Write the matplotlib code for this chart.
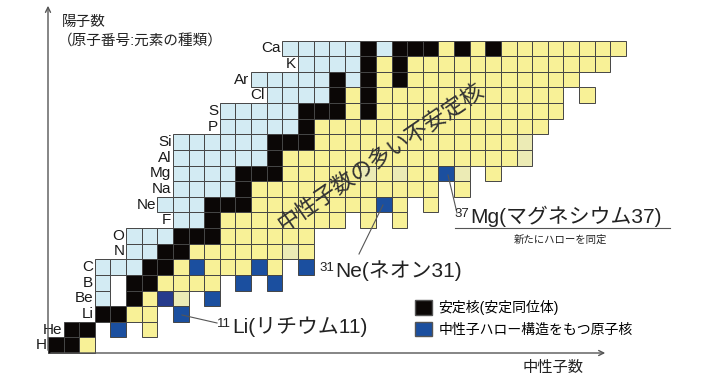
import matplotlib.pyplot as plt
from matplotlib.patches import Rectangle, Patch

plt.rcParams['font.family'] = ['Liberation Sans', 'Noto Sans CJK JP']

elements = ["H", "He", "Li", "Be", "B", "C", "N", "O", "F", "Ne",
            "Na", "Mg", "Al", "Si", "P", "S", "Cl", "Ar", "K", "Ca"]

# neutron numbers N for each proton number Z
stable = {
    1: [0, 1], 2: [1, 2], 3: [3, 4], 4: [5], 5: [5, 6], 6: [6, 7],
    7: [7, 8], 8: [8, 9, 10], 9: [10], 10: [10, 11, 12], 11: [12],
    12: [12, 13, 14], 13: [14], 14: [14, 15, 16], 15: [16],
    16: [16, 17, 18, 20], 17: [18, 20], 18: [18, 20, 22], 19: [20, 22],
    20: [20, 22, 23, 24, 26, 28],
}
proton_rich = {
    4: [3], 5: [3], 6: [3, 4, 5], 7: [5, 6], 8: [5, 6, 7], 9: [8, 9],
    10: [7, 8, 9], 11: [8, 9, 10, 11], 12: [8, 9, 10, 11],
    13: [8, 9, 10, 11, 12, 13], 14: [8, 9, 10, 11, 12, 13],
    15: [11, 12, 13, 14, 15], 16: [11, 12, 13, 14, 15],
    17: [14, 15, 16, 17], 18: [13, 14, 15, 16, 17, 19],
    19: [16, 17, 18, 19], 20: [15, 16, 17, 18, 19, 21],
}
neutron_rich = {
    1: [2], 2: [6], 3: [5, 6], 4: [6], 5: [7, 8, 9, 10],
    6: [8, 10, 11, 12, 14], 7: [9, 10, 11, 12, 13, 14, 16],
    8: [11, 12, 13, 14, 15, 16],
    9: [*range(11, 19), 20, 22],
    10: [*range(13, 21), 22, 24],
    11: [*range(13, 25), 26],
    12: [15, 16, 17, 18, 19, 21, 23, 24, 28],
    13: [*range(15, 30)],
    14: [*range(17, 30)],
    15: [*range(17, 32)],
    16: [19, *range(21, 33)],
    17: [19, *range(21, 33), 34],
    18: [21, *range(23, 34)],
    19: [21, *range(23, 36)],
    20: [25, 27, *range(29, 37)],
}
pale = [(4, 8), (7, 15), (12, 20), (12, 22), (12, 26), (13, 30), (14, 30)]  # (Z, N)
halo = [(2, 4), (3, 8), (4, 10), (5, 12), (5, 14), (6, 9), (6, 13), (6, 16),
        (10, 21), (12, 25)]
halo_dark = [(4, 7)]

colors = {"stable": "#0b0706", "proton": "#d3ebf3", "neutron": "#f8f197",
          "pale": "#ecebb5", "halo": "#1b4f9f", "halo_dark": "#263b8c"}

W, H = 709, 384
CELL = 15.62
X0, Y0 = 48, 353


def px(x, y):
    return (x - X0) / CELL, (Y0 - y) / CELL


fig = plt.figure(figsize=(W / 100, H / 100), dpi=100)
ax = fig.add_axes([0, 0, 1, 1])
ax.set_xlim(-X0 / CELL, (W - X0) / CELL)
ax.set_ylim((Y0 - H) / CELL, Y0 / CELL)
ax.axis("off")


def cell(n, z, fc):
    ax.add_patch(Rectangle((n, z - 1), 1, 1, fc=fc, ec="#454545", lw=0.7))


for z, ns in proton_rich.items():
    for n in ns:
        cell(n, z, colors["proton"])
for z, ns in neutron_rich.items():
    for n in ns:
        cell(n, z, colors["neutron"])
for z, n in pale:
    cell(n, z, colors["pale"])
for z, ns in stable.items():
    for n in ns:
        cell(n, z, colors["stable"])
for z, n in halo:
    cell(n, z, colors["halo"])
for z, n in halo_dark:
    cell(n, z, colors["halo_dark"])

# element labels left of the first cell of each row
for z, name in enumerate(elements, start=1):
    first = min(stable.get(z, []) + proton_rich.get(z, []))
    ax.text(first - 0.1, z - 0.5, name, ha="right", va="center",
            fontsize=11, color="#1a1a1a")

# axes arrows
arrow = dict(arrowstyle="->", color="#555555", lw=1.0, mutation_scale=9)
ax.annotate("", xy=px(48, 3), xytext=px(48, 353), arrowprops=arrow)
ax.annotate("", xy=px(608, 353), xytext=px(48, 353), arrowprops=arrow)

ax.text(*px(62, 22), "陽子数", fontsize=10.5, va="center", ha="left", color="#222")
ax.text(*px(58, 42), "（原子番号:元素の種類）", fontsize=10.5, va="center",
        ha="left", color="#222")
ax.text(*px(553, 368), "中性子数", fontsize=11, va="center", ha="center",
        color="#222")

ax.text(*px(381, 157), "中性子数の多い不安定核", fontsize=16, rotation=34.5,
        ha="center", va="center", color="#333333", rotation_mode="anchor")

# annotations
line = dict(color="#555555", lw=0.8)


def label(cell_xy, end_xy, x, y, sup, main):
    ax.plot([cell_xy[0], end_xy[0]], [cell_xy[1], end_xy[1]], **line)
    ax.text(*px(x - 1, y - 6), sup, fontsize=9.5, ha="right", va="baseline",
            color="#222")
    ax.text(*px(x, y), main, fontsize=15, ha="left", va="baseline", color="#222")


label(px(182, 315), px(217, 323), 232, 333, "11", "Li(リチウム11)")
label(px(383, 205), px(359, 254), 335, 277, "31", "Ne(ネオン31)")
label(px(448, 175), px(457, 213), 470, 223, "37", "Mg(マグネシウム37)")
ax.plot(*zip(px(455, 228), px(670, 228)), **line)
ax.text(*px(560, 240), "新たにハローを同定", fontsize=7.5, ha="center", va="center",
        color="#222")

handles = [Patch(fc=colors["stable"], ec="#555"), Patch(fc=colors["halo"], ec="#555")]
ax.legend(handles, ["安定核(安定同位体)", "中性子ハロー構造をもつ原子核"],
          loc="upper left", bbox_to_anchor=(415 / W, 1 - 300 / H), frameon=False,
          fontsize=10, handlelength=1.2, handleheight=1.2, handletextpad=0.5,
          labelspacing=0.5, borderpad=0, borderaxespad=0)

fig.savefig("out.png", dpi=100)
